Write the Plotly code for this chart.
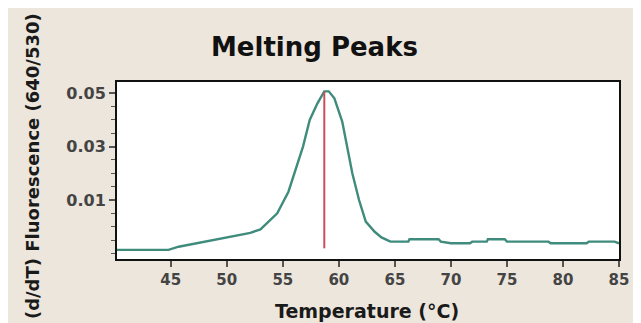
import plotly.graph_objects as go

# Melting peak curve: temperature (°C) and -(d/dT) fluorescence (640/530)
temperature = [40.2, 44.8, 45.7, 47.5, 49.2, 51.0, 52.1, 53.0, 54.5, 55.5, 56.2, 56.8,
               57.4, 58.1, 58.7, 59.1, 59.6, 60.3, 61.2, 61.8, 62.4, 63.2, 63.8, 64.6,
               66.2, 66.3, 68.9, 69.1, 70.0, 71.7, 71.9, 73.2, 73.3, 74.8, 75.0, 78.7,
               78.9, 82.1, 82.3, 84.6, 85.0]
fluorescence = [-0.0087, -0.0087, -0.0075, -0.0060, -0.0047, -0.0031, -0.0023, -0.0010,
                0.0050, 0.0131, 0.0225, 0.0300, 0.0400, 0.0463, 0.0507, 0.0507, 0.0481,
                0.0394, 0.0200, 0.0100, 0.0019, -0.0019, -0.0040, -0.0056, -0.0056,
                -0.0047, -0.0047, -0.0056, -0.0062, -0.0062, -0.0056, -0.0056, -0.0047,
                -0.0047, -0.0056, -0.0056, -0.0062, -0.0062, -0.0056, -0.0056, -0.0062]

# Tm marker
peak_temp = [58.7, 58.7]
peak_line = [0.0506, -0.0081]

x_ticks = [45, 50, 55, 60, 65, 70, 75, 80, 85]
y_ticks = [0.01, 0.03, 0.05]
y_tick_text = ["0.01", "0.03", "0.05"]
y_minor = [-0.01, -0.005, 0.0, 0.005, 0.015, 0.02, 0.025, 0.035, 0.04, 0.045]

BG = "#ece6dd"
FONT = "DejaVu Sans"

fig = go.Figure()
fig.add_trace(go.Scatter(x=temperature, y=fluorescence, mode="lines",
                         line=dict(color="#3f8b7c", width=2.4), hoverinfo="skip"))
fig.add_trace(go.Scatter(x=peak_temp, y=peak_line, mode="lines",
                         line=dict(color="#c9505a", width=2), hoverinfo="skip"))

fig.update_layout(
    width=633, height=315,
    margin=dict(l=109, r=13, t=74, b=64),
    paper_bgcolor=BG, plot_bgcolor="white",
    showlegend=False,
    font=dict(family=FONT, color="#444444"),
    annotations=[
        dict(text="<b>Melting Peaks</b>", xref="paper", yref="paper",
             x=0.393, y=1.195, xanchor="center", yanchor="middle", showarrow=False,
             font=dict(family=FONT, size=26, color="#111111")),
        dict(text="<b>Temperature (°C)</b>", xref="paper", yref="paper",
             x=0.498, y=-0.294, xanchor="center", yanchor="middle", showarrow=False,
             font=dict(family=FONT, size=19, color="#1a1a1a")),
        dict(text="<b>(d/dT) Fluorescence (640/530)</b>", xref="paper", yref="paper",
             x=-0.168, y=0.523, xanchor="center", yanchor="middle", showarrow=False,
             textangle=-90, font=dict(family=FONT, size=18, color="#1a1a1a")),
    ],
)

fig.update_xaxes(range=[40.2, 85.0], tickmode="array", tickvals=x_ticks,
                 ticks="outside", ticklen=6, tickwidth=1.5, tickcolor="#555555",
                 showgrid=False, zeroline=False,
                 showline=True, linecolor="#111111", linewidth=2, mirror=True,
                 tickfont=dict(family=FONT, size=15, color="#444444", weight="bold"))
fig.update_yaxes(range=[-0.0121, 0.0542], tickmode="array", tickvals=y_ticks,
                 ticktext=y_tick_text,
                 ticks="outside", ticklen=6, tickwidth=1.5, tickcolor="#555555",
                 minor=dict(tickmode="array", tickvals=y_minor, ticks="outside",
                            ticklen=4, tickwidth=1, tickcolor="#555555", showgrid=False),
                 showgrid=False, zeroline=False,
                 showline=True, linecolor="#111111", linewidth=2, mirror=True,
                 tickfont=dict(family=FONT, size=16, color="#444444", weight="bold"))

fig.write_html("out.html")
